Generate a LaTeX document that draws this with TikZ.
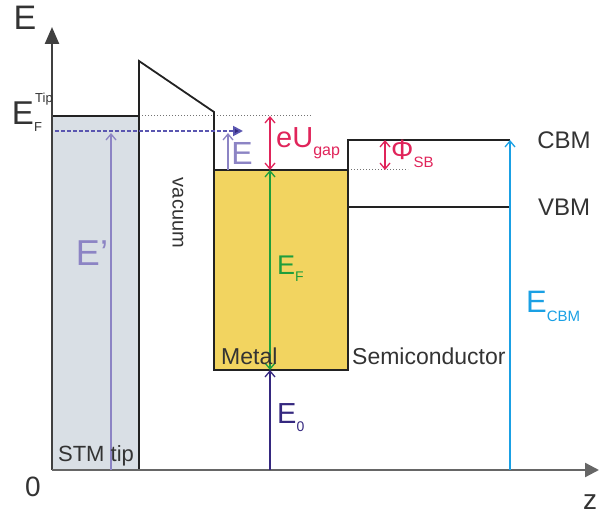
\documentclass[tikz,border=0pt]{standalone}
\usepackage{fontspec}
\setmainfont{Liberation Sans}
\usetikzlibrary{arrows.meta}
\definecolor{tipgray}{HTML}{D9DFE5}
\definecolor{metalyel}{HTML}{F2D460}
\definecolor{lpurple}{HTML}{8C84C4}
\definecolor{navy}{HTML}{35287F}
\definecolor{dashblue}{HTML}{5A56B0}
\definecolor{redgap}{HTML}{E0245A}
\definecolor{greenf}{HTML}{1E9E3C}
\definecolor{bluecbm}{HTML}{1AA0E4}
\definecolor{bandline}{HTML}{222222}
\newcommand{\fs}[1]{\fontsize{#1}{#1}\selectfont}
\tikzset{
  band/.style={draw=bandline, line width=1.8pt},
  axisline/.style={draw=black!75, line width=2.4pt},
  dotline/.style={draw=black!55, line width=1pt, dotted},
  openarr/.style={line width=1.4pt, -{Straight Barb[length=6pt,width=10pt,line width=1.3pt]}},
  dblarr/.style={line width=1.4pt, {Straight Barb[length=6pt,width=10pt,line width=1.3pt]}-{Straight Barb[length=6pt,width=10pt,line width=1.3pt]}},
  lbl/.style={inner sep=0pt, text=black!80},
}
\begin{document}
\begin{tikzpicture}[x=1pt,y=-1pt]
\useasboundingbox (0,0) rectangle (600,516);
% key coordinates
\coordinate (O) at (52,470);
\coordinate (Ytop) at (52,27);
\coordinate (Xend) at (599,470);
\coordinate (tipTL) at (52,116);
\coordinate (tipTR) at (139,116);
\coordinate (barB) at (139,470);
\coordinate (barT) at (139,61);
\coordinate (barR) at (214,112);
\coordinate (mTL) at (214,170);
\coordinate (mBR) at (348,370);
\coordinate (mTR) at (348,170);
\coordinate (sTL) at (348,140);
\coordinate (cbmR) at (510,140);
\coordinate (vbmL) at (348,207);
\coordinate (vbmR) at (510,207);
% fills
\fill[tipgray] (tipTL) rectangle (barB);
\fill[metalyel] (mTL) rectangle (mBR);
% dotted guides
\coordinate (dot1e) at (312,116);
\draw[dotline] (tipTR) -- (dot1e);
\coordinate (dot2e) at (408,170);
\draw[dotline] (mTR) -- (dot2e);
% band structure
\draw[band] (tipTL) -- (tipTR);
\draw[band, line join=miter] (barB) -- (barT) -- (barR) -- (mTL);
\draw[band] (mTL) rectangle (mBR);
\draw[band] (mTR) -- (sTL) -- (cbmR);
\draw[band] (vbmL) -- (vbmR);
% axes
\draw[axisline, -{Triangle[length=17pt,width=14pt]}] (O) -- (Ytop);
\draw[axisline, draw=black!60, -{Triangle[length=14pt,width=14pt]}] (O) -- (Xend);
% dashed tunnelling line
\coordinate (dashS) at (55,131);
\coordinate (dashE) at (243,131);
\draw[dashblue, line width=1.8pt, dash pattern=on 3.5pt off 2.5pt, -{Triangle[length=10pt,width=10pt,fill=navy]}] (dashS) -- (dashE);
% arrows
\coordinate (ep0) at (111,470); \coordinate (ep1) at (111,133);
\draw[lpurple, openarr] (ep0) -- (ep1);
\coordinate (e0) at (228,170); \coordinate (e1) at (228,133);
\draw[lpurple, openarr] (e0) -- (e1);
\coordinate (u0) at (270,116); \coordinate (u1) at (270,170);
\draw[redgap, dblarr] (u0) -- (u1);
\coordinate (f1) at (270,370);
\draw[greenf, dblarr] (u1) -- (f1);
\coordinate (z0) at (270,470);
\draw[navy, openarr] (z0) -- (f1);
\coordinate (p0) at (385,140); \coordinate (p1) at (385,170);
\draw[redgap, dblarr] (p0) -- (p1);
\coordinate (c0) at (510,470);
\draw[bluecbm, openarr] (c0) -- (cbmR);
% labels
\node[lbl] (Eax) at (25,18) {\fs{34}E};
\node[lbl] (zero) at (33,487) {\fs{28}0};
\node[lbl] (zax) at (590,502) {\fs{28}z};
\node[lbl] (EFtip) at (23,113) {\fs{33}E};
\node[lbl] (EFtipS) at (44,99) {\fs{13}Tip};
\node[lbl] (EFtipF) at (38,127) {\fs{13}F};
\node[lbl, text=lpurple] (Ep) at (92,253) {\fs{36}E'};
\node[lbl, text=lpurple] (Esm) at (242,153) {\fs{32}E};
\node[lbl, text=redgap, anchor=west] (eU) at (276,143) {\fs{29}eU\raisebox{-8pt}{\fs{16}gap}};
\node[lbl, text=redgap, anchor=west] (phi) at (391,154) {\fs{28}Φ\raisebox{-8pt}{\fs{15}SB}};
\node[lbl, text=greenf, anchor=west] (EF) at (277,269) {\fs{27}E\raisebox{-7pt}{\fs{14}F}};
\node[lbl, text=navy, anchor=west] (E0) at (277,418) {\fs{29}E\raisebox{-8pt}{\fs{14}0}};
\node[lbl, text=bluecbm, anchor=west] (ECBM) at (526,306) {\fs{31}E\raisebox{-9pt}{\fs{15}CBM}};
\node[lbl] (CBM) at (564,140) {\fs{24}CBM};
\node[lbl] (VBM) at (564,207) {\fs{24}VBM};
\node[lbl, anchor=west] (metal) at (221,356) {\fs{23}Metal};
\node[lbl, anchor=west] (semi) at (352,356) {\fs{23}Semiconductor};
\node[lbl] (stm) at (96,456) {\fs{22}STM tip};
\node[lbl, rotate=-90] (vac) at (178,213) {\fs{20}vacuum};
\end{tikzpicture}
\end{document}
